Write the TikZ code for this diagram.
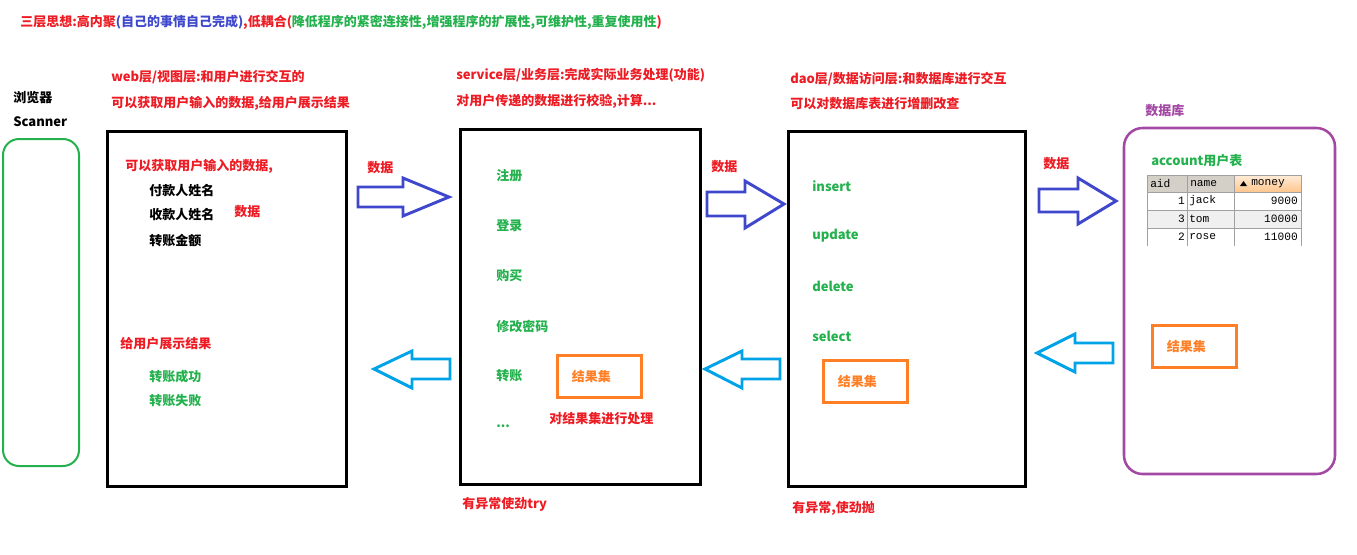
\documentclass[tikz,border=0pt]{standalone}
\usepackage{fontspec}
\usepackage{tikz}
\setmainfont{Noto Sans CJK SC}
\newfontfamily\tablefont{Liberation Mono}
\definecolor{redtxt}{HTML}{ED1C24}
\definecolor{bluetxt}{HTML}{3F48CC}
\definecolor{greentxt}{HTML}{22B14C}
\definecolor{orangetxt}{HTML}{FF7F27}
\definecolor{purpletxt}{HTML}{A349A4}
\definecolor{cyanarrow}{HTML}{00A2E8}
\definecolor{gridgrey}{HTML}{A0A0A0}
\definecolor{headgrey}{HTML}{D4D0C8}

\begin{document}
\begin{tikzpicture}[x=0.75pt,y=-0.75pt,
  lbl/.style={anchor=west,inner sep=0pt,font=\fontsize{9.75pt}{11pt}\selectfont\bfseries},
  layerbox/.style={draw,line width=2.25pt},
  resbox/.style={lbl,draw=orangetxt,line width=1.9pt,text=orangetxt,anchor=north west,
    inner xsep=11pt,text width=41pt,align=left,minimum height=31.5pt},
  fwd/.style={draw=bluetxt,line width=2.2pt,line join=miter},
  back/.style={draw=cyanarrow,line width=2.2pt,line join=miter},
  cell/.style={inner sep=0pt,font=\fontsize{8.4pt}{9pt}\tablefont}]

\useasboundingbox (0,0) rectangle (1357,554);

\node[lbl] (title) at (20,22) {\color{redtxt}三层思想:高内聚\color{bluetxt}(自己的事情自己完成)\color{redtxt},低耦合(\color{greentxt}降低程序的紧密连接性,增强程序的扩展性,可维护性,重复使用性\color{redtxt})};

\draw[greentxt,line width=1.5pt,rounded corners=12pt] (3,139) rectangle (79,466);
\node[lbl] (browser) at (13,98) {浏览器};
\node[lbl] (scanner) at (13,122) {Scanner};

\draw[layerbox] (107,131) rectangle (346,486);
\node[lbl,redtxt] (webhead) at (111,77) {web层/视图层:和用户进行交互的};
\node[lbl,redtxt] (webdesc) at (111,103) {可以获取用户输入的数据,给用户展示结果};
\node[lbl,redtxt] (webin) at (125,166) {可以获取用户输入的数据,};
\node[lbl] (payer) at (149,191) {付款人姓名};
\node[lbl] (payee) at (149,215) {收款人姓名};
\node[lbl] (amount) at (149,241) {转账金额};
\node[lbl,redtxt] (webdata) at (234,212) {数据};
\node[lbl,redtxt] (webout) at (120,344) {给用户展示结果};
\node[lbl,greentxt] (ok) at (149,377) {转账成功};
\node[lbl,greentxt] (fail) at (149,401) {转账失败};

\draw[layerbox] (460,129) rectangle (700,484);
\node[lbl,redtxt] (svchead) at (456,75) {service层/业务层:完成实际业务处理(功能)};
\node[lbl,redtxt] (svcdesc) at (456,101) {对用户传递的数据进行校验,计算...};
\foreach \y/\t [count=\i] in {176/注册,226/登录,276/购买,326/修改密码,376/转账}
  \node[lbl,greentxt] (svc\i) at (496,\y) {\t};
\node[lbl,greentxt] (svcmore) at (496,426) {...};
\node[resbox] (svcres) at (556,354) {结果集};
\node[lbl,redtxt] (svcdo) at (549,419) {对结果集进行处理};
\node[lbl,redtxt] (svctry) at (462,504) {有异常使劲try};

\draw[layerbox] (788,131) rectangle (1025,486);
\node[lbl,redtxt] (daohead) at (790,79) {dao层/数据访问层:和数据库进行交互};
\node[lbl,redtxt] (daodesc) at (790,104) {可以对数据库表进行增删改查};
\foreach \y/\t [count=\i] in {186/insert,236/update,286/delete,336/select}
  \node[lbl,greentxt] (dao\i) at (812,\y) {\t};
\node[resbox] (daores) at (822,359) {结果集};
\node[lbl,redtxt] (daothrow) at (792,508) {有异常,使劲抛};

\draw[purpletxt,line width=1.9pt,rounded corners=14pt] (1124,128) rectangle (1335,474);
\node[lbl,purpletxt] (db) at (1145,111) {数据库};
\node[lbl,greentxt] (acct) at (1151,161) {account用户表};
\node[resbox] (dbres) at (1151,324) {结果集};

\fill[headgrey] (1147,175) rectangle (1234,192);
\shade[top color=orange!15,bottom color=orange!45] (1234,175) rectangle (1301,192);
\fill[black!6] (1147,210) rectangle (1301,228);
\draw[gridgrey,line width=0.75pt] (1147,175) -- (1301,175);
\foreach \y in {192,210,228} \draw[gridgrey] (1147,\y) -- (1301,\y);
\foreach \x in {1147,1187,1234,1301} \draw[gridgrey] (\x,175) -- (\x,246);
\node[cell,anchor=west] (haid) at (1150,184) {aid};
\node[cell,anchor=west] (hname) at (1190,184) {name};
\fill (1240,186) -- (1247,186) -- (1243.5,181) -- cycle;
\node[cell,anchor=west] (hmoney) at (1251,184) {money};
\foreach \a/\n/\m [count=\i] in {1/jack/9000,3/tom/10000,2/rose/11000}{
  \node[cell,anchor=east] (aid\i) at (1185,183+18*\i) {\a};
  \node[cell,anchor=west] (name\i) at (1189,183+18*\i) {\n};
  \node[cell,anchor=east] (money\i) at (1298,183+18*\i) {\m};
}

\draw[fwd] (358,187) -- (403,187) -- (403,178) -- (449,197) -- (403,216) -- (403,207) -- (358,207) -- cycle;
\draw[fwd] (707,192) -- (745,192) -- (745,181) -- (784,204) -- (745,228) -- (745,216) -- (707,216) -- cycle;
\draw[fwd] (1039,189) -- (1078,189) -- (1078,178) -- (1116,201) -- (1078,224) -- (1078,212) -- (1039,212) -- cycle;
\node[lbl,redtxt] (data1) at (367,168) {数据};
\node[lbl,redtxt] (data2) at (711,167) {数据};
\node[lbl,redtxt] (data3) at (1043,164) {数据};

\draw[back] (450,359) -- (412,359) -- (412,351) -- (374,369) -- (412,388) -- (412,379) -- (450,379) -- cycle;
\draw[back] (780,359) -- (742,359) -- (742,351) -- (705,369) -- (742,388) -- (742,379) -- (780,379) -- cycle;
\draw[back] (1113,343) -- (1075,343) -- (1075,334) -- (1037,353) -- (1075,372) -- (1075,363) -- (1113,363) -- cycle;

\end{tikzpicture}
\end{document}
